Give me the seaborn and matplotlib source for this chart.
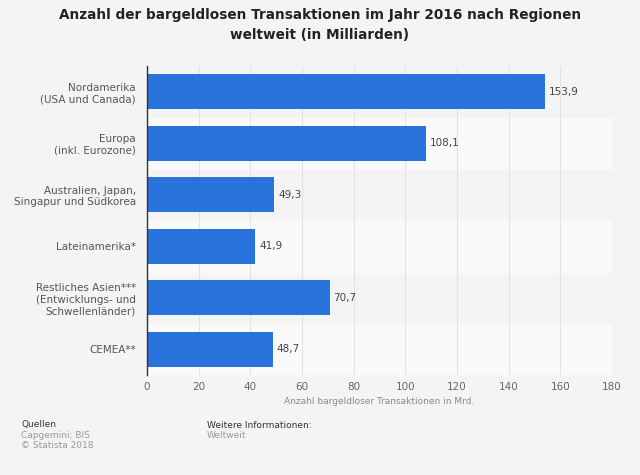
import matplotlib
matplotlib.use('Agg')
import matplotlib.pyplot as plt
import seaborn as sns
import pandas as pd

# Data
regions = ['Nordamerika\n(USA und Canada)', 'Europa\n(inkl. Eurozone)',
           'Australien, Japan,\nSingapur und Südkorea', 'Lateinamerika*',
           'Restliches Asien***\n(Entwicklungs- und\nSchwellenländer)', 'CEMEA**']
values = [153.9, 108.1, 49.3, 41.9, 70.7, 48.7]
value_labels = ['153,9', '108,1', '49,3', '41,9', '70,7', '48,7']
xticks = [0, 20, 40, 60, 80, 100, 120, 140, 160, 180]

df = pd.DataFrame({'Region': regions, 'Wert': values})

sns.set_style('white')
plt.rcParams['font.family'] = ['DejaVu Sans']

bg = '#f4f4f4'
fig = plt.figure(figsize=(6.4, 4.75), dpi=100, facecolor=bg)
ax = fig.add_axes([147 / 640, 1 - 375 / 475, (612 - 147) / 640, (375 - 66) / 475])
ax.set_facecolor(bg)

# alternating row bands
for i in range(len(regions)):
    if i % 2 == 1:
        ax.axhspan(i - 0.5, i + 0.5, color='#fafafa', zorder=0)

sns.barplot(data=df, x='Wert', y='Region', color='#2874dc', width=0.68,
            saturation=1, linewidth=0, ax=ax, zorder=3)

for i, (v, lab) in enumerate(zip(values, value_labels)):
    ax.text(v + 1.5, i, lab, va='center', ha='left', fontsize=7.5, color='#444444', zorder=4)

ax.set_xlim(0, 180)
ax.set_ylim(len(regions) - 0.5, -0.5)
ax.set_xticks(xticks)
ax.set_xticklabels([str(t) for t in xticks], fontsize=7.5, color='#666666')
ax.tick_params(axis='y', labelsize=7.5, labelcolor='#555555', length=0, pad=8)
ax.tick_params(axis='x', length=0, pad=5)
for lab in ax.get_yticklabels():
    lab.set_horizontalalignment('right')
    lab.set_multialignment('right')
ax.grid(axis='x', color='#e2e2e2', linewidth=0.8, zorder=1)
ax.set_axisbelow(True)
for s in ['top', 'right', 'bottom']:
    ax.spines[s].set_visible(False)
ax.spines['left'].set_color('#333333')
ax.spines['left'].set_linewidth(1)
ax.spines['left'].set_zorder(5)
ax.set_ylabel('')
ax.set_xlabel('Anzahl bargeldloser Transaktionen in Mrd.', fontsize=6.5, color='#888888', labelpad=4)

fig.text(0.5, 1 - 25 / 475, 'Anzahl der bargeldlosen Transaktionen im Jahr 2016 nach Regionen\nweltweit (in Milliarden)',
         ha='center', va='center', fontsize=9.8, fontweight='bold', color='#222222', linespacing=1.55)

fig.text(21 / 640, 1 - 425 / 475, 'Quellen', fontsize=6.5, color='#333333', va='center')
fig.text(21 / 640, 1 - 436 / 475, 'Capgemini; BIS', fontsize=6.5, color='#999999', va='center')
fig.text(21 / 640, 1 - 446 / 475, '© Statista 2018', fontsize=6.5, color='#999999', va='center')
fig.text(207 / 640, 1 - 425 / 475, 'Weitere Informationen:', fontsize=6.5, color='#333333', va='center')
fig.text(207 / 640, 1 - 436 / 475, 'Weltweit', fontsize=6.5, color='#999999', va='center')

fig.savefig('out.png', dpi=100, facecolor=bg)
